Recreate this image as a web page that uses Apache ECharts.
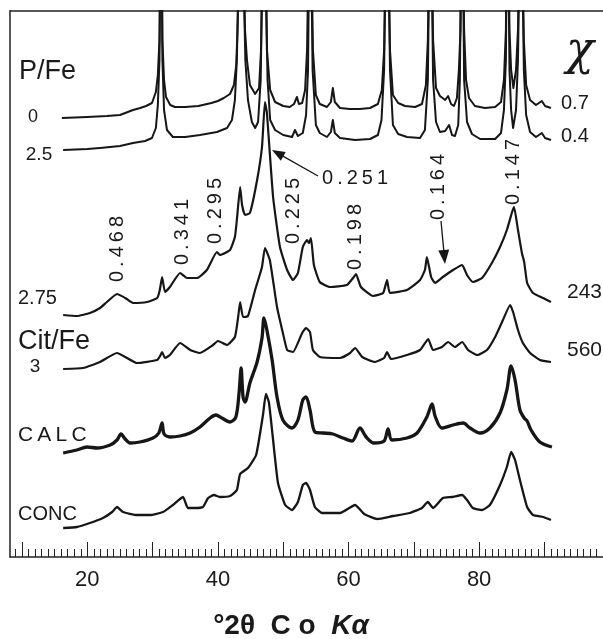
<!DOCTYPE html>
<html><head><meta charset="utf-8">
<script src="https://cdn.jsdelivr.net/npm/echarts@6/dist/echarts.min.js"></script>
<style>html,body{margin:0;padding:0;background:#fff}#c{width:603px;height:639px}</style>
</head><body><div id="c"></div>
<script>
// x: degrees 2θ as read on the drawn axis; y: stacked intensity (arbitrary units)
const pFe0 = [[16.1,439],[20.0,440],[23.0,441],[25.0,442],[27.0,447],[28.1,449],[29.0,451],[29.9,454],[30.5,465],[30.8,482],[31.05,517],[31.3,700],[31.5,517],[31.75,477],[32.05,460],[32.7,452],[33.4,450],[35.0,450],[37.0,451],[39.0,454],[40.0,456],[40.9,459],[41.85,463],[42.45,472],[42.8,492],[43.0,527],[43.55,700],[44.15,527],[44.45,497],[44.9,472],[45.7,463],[46.0,461],[46.3,469],[46.6,507],[47.05,700],[47.5,507],[48.0,467],[48.75,455],[50.0,451],[51.0,450],[51.65,453],[52.1,460],[52.4,453],[52.9,454],[53.35,467],[53.65,507],[54.1,700],[54.55,507],[55.0,462],[55.6,453],[56.7,450],[57.3,455],[57.6,469],[57.9,455],[58.7,449],[60.2,448],[61.75,448],[63.3,449],[64.5,453],[65.1,467],[65.45,507],[65.9,700],[66.35,507],[66.8,462],[67.6,454],[68.65,451],[70.2,450],[71.25,453],[71.85,472],[72.15,517],[72.55,700],[72.95,517],[73.4,469],[74.0,461],[74.8,457],[75.25,461],[75.7,453],[76.15,451],[76.6,459],[76.9,487],[77.15,527],[77.4,700],[77.7,527],[78.0,477],[78.45,459],[79.35,451],[80.9,449],[82.45,450],[83.35,455],[83.8,477],[84.1,527],[84.35,700],[84.65,527],[84.9,487],[85.25,469],[85.65,487],[85.95,527],[86.4,700],[86.85,517],[87.2,472],[87.8,457],[88.7,452],[89.6,456],[90.1,451],[91.0,449]];
const pFe25 = [[16.3,407],[20.0,408],[21.95,409],[25.0,411],[27.0,414],[28.85,416],[29.9,419],[30.5,429],[30.8,452],[31.05,497],[31.3,700],[31.5,497],[31.75,447],[32.2,427],[33.1,420],[35.0,420],[37.25,422],[39.85,425],[41.4,429],[42.15,437],[42.6,457],[42.9,497],[43.55,700],[44.2,497],[44.6,457],[45.2,435],[45.7,429],[46.15,435],[46.55,477],[47.05,700],[47.6,477],[48.0,437],[48.75,427],[50.0,422],[51.35,420],[51.8,427],[52.25,421],[53.0,424],[53.5,442],[53.8,487],[54.1,700],[54.5,487],[55.0,432],[55.6,424],[56.7,420],[57.3,425],[57.6,437],[57.9,424],[58.7,419],[61.0,417],[63.3,418],[64.5,422],[65.05,437],[65.45,487],[65.9,700],[66.35,487],[66.8,432],[67.6,423],[68.95,420],[70.95,419],[71.7,427],[72.15,477],[72.55,700],[72.95,477],[73.4,435],[74.0,425],[74.8,426],[75.4,432],[75.85,422],[76.3,421],[76.8,432],[77.05,477],[77.4,700],[77.7,477],[78.15,435],[78.9,423],[80.15,418],[82.45,418],[83.35,424],[83.8,447],[84.1,497],[84.35,700],[84.65,487],[84.9,447],[85.2,429],[85.65,447],[85.95,497],[86.4,700],[86.85,487],[87.2,442],[87.8,425],[88.7,420],[89.6,424],[90.1,419],[91.0,417]];
const pFe275 = [[16.3,242],[18.4,241],[20.4,244],[21.95,249],[23.0,255],[24.55,263],[25.8,259],[27.0,254],[29.15,255],[30.7,259],[31.1,267],[31.45,280],[31.9,265],[32.65,270],[34.2,284],[35.25,279],[36.8,279],[38.3,287],[39.85,305],[40.3,302],[41.85,307],[42.6,320],[42.9,337],[43.4,370],[43.7,352],[44.15,342],[44.9,344],[46.0,377],[46.75,410],[47.2,455],[47.5,444],[48.45,360],[49.5,310],[50.6,287],[51.5,277],[52.25,284],[53.0,310],[53.65,317],[53.95,314],[54.25,319],[54.7,292],[55.6,275],[57.15,270],[59.75,272],[60.7,279],[61.15,283],[61.9,270],[63.75,261],[65.3,264],[65.9,277],[66.35,264],[68.95,267],[70.95,277],[71.7,287],[72.0,300],[72.65,280],[73.25,274],[74.45,280],[76.0,287],[77.4,292],[78.15,282],[79.05,275],[80.45,279],[81.95,294],[83.2,310],[84.25,327],[85.05,345],[85.35,350],[85.95,327],[86.55,304],[86.9,295],[87.35,274],[88.25,264],[89.8,259],[91.0,255]];
const citFe3 = [[16.3,188],[19.35,189],[21.95,195],[24.55,204],[26.1,199],[27.6,194],[30.7,197],[31.15,201],[31.45,205],[31.9,199],[32.65,202],[34.2,214],[35.75,207],[37.25,204],[39.25,212],[40.0,216],[41.4,212],[42.6,220],[43.1,240],[43.4,255],[43.85,240],[44.6,241],[45.7,267],[46.75,290],[47.2,309],[47.95,297],[49.05,250],[49.95,224],[50.6,207],[51.5,205],[52.9,224],[53.5,229],[54.1,225],[54.55,207],[55.6,200],[58.7,199],[60.25,204],[61.0,209],[62.1,200],[64.05,195],[65.45,199],[65.9,205],[66.5,198],[68.95,202],[70.95,207],[72.2,218],[72.95,207],[74.3,210],[75.25,215],[76.3,210],[77.4,215],[78.3,207],[79.7,202],[81.2,207],[82.45,220],[83.65,237],[84.75,252],[85.2,245],[85.95,227],[86.7,214],[87.8,204],[89.3,197],[91.0,195]];
const calc = [[16.3,104],[18.4,107],[19.95,110],[21.5,109],[23.5,112],[24.55,117],[25.15,123],[25.8,118],[26.55,114],[28.05,115],[30.05,119],[30.95,124],[31.45,134],[31.75,123],[32.65,120],[34.2,121],[35.75,124],[37.25,130],[38.8,139],[39.7,142],[40.6,139],[41.85,135],[42.75,140],[43.25,165],[43.55,189],[43.85,160],[44.15,155],[44.9,174],[46.0,195],[46.75,219],[47.05,239],[47.5,227],[48.3,197],[49.05,160],[49.95,137],[51.35,129],[52.25,137],[53.0,157],[53.5,160],[54.1,147],[54.85,125],[56.1,124],[57.6,123],[59.15,119],[60.55,116],[61.75,129],[62.7,120],[63.9,114],[65.45,116],[66.05,128],[66.65,117],[68.95,119],[70.5,124],[72.0,140],[72.8,153],[73.25,141],[74.3,129],[76.0,132],[77.55,134],[78.6,129],[80.15,124],[81.65,129],[83.2,144],[84.25,167],[84.9,191],[85.5,177],[86.25,147],[86.9,139],[87.35,136],[87.95,127],[89.3,115],[91.15,110]];
const conc = [[16.3,29],[18.4,30],[20.4,34],[22.4,39],[23.8,45],[24.55,50],[25.45,45],[27.6,42],[29.6,42],[31.6,45],[33.1,52],[34.65,60],[35.4,49],[36.5,49],[37.7,50],[38.5,59],[39.4,62],[40.3,60],[41.85,61],[42.9,67],[43.4,83],[44.6,89],[45.85,102],[46.9,142],[47.35,163],[47.8,155],[48.45,117],[49.2,74],[50.3,52],[51.35,47],[52.25,55],[53.0,72],[53.5,74],[54.1,67],[54.85,50],[55.95,44],[58.7,44],[61.0,52],[62.4,43],[64.4,38],[66.8,41],[69.4,44],[71.25,49],[72.15,55],[72.95,49],[74.45,59],[75.85,60],[77.4,62],[78.15,57],[79.05,49],[80.45,47],[81.65,52],[83.2,72],[84.25,90],[84.9,105],[85.5,97],[86.25,77],[87.35,50],[88.25,42],[89.8,40],[91.0,37]];

const xLabelValues = [20, 40, 60, 80];
const xMajorTicks = [10, 20, 30, 40, 50, 60, 70, 80, 90];
const xMinorTicks = [];
for (let v = 9; v <= 98; v++) if (v % 10 !== 0) xMinorTicks.push(v);
const dLabels = ['0.468', '0.341', '0.295', '0.225', '0.198', '0.164', '0.147'];

const X_MIN = 8.16, X_MAX = 98.97;
const INK = '#161616';
const F = '"Liberation Sans", Arial, sans-serif';
const sp = s => s.split('').join('\u2009');

function T(text, x, y, size, o) {
  o = o || {};
  return {type: 'text', x: x, y: y, rotation: o.rot || 0, z: 100,
    style: {text: text, x: 0, y: 0,
      font: (o.italic ? 'italic ' : '') + (o.bold ? 'bold ' : '') + size + 'px ' + (o.family || F),
      fill: '#1a1a1a', align: o.align || 'left', verticalAlign: 'middle'}};
}
function arrow(x1, y1, x2, y2, len, hw) {
  const dx = x2 - x1, dy = y2 - y1, L = Math.hypot(dx, dy);
  const ux = dx / L, uy = dy / L;
  const bx = x2 - ux * len, by = y2 - uy * len;
  const px = -uy * hw, py = ux * hw;
  return [
    {type: 'line', z: 100, shape: {x1: x1, y1: y1, x2: bx + ux * 2, y2: by + uy * 2}, style: {stroke: INK, lineWidth: 1.3}},
    {type: 'polygon', z: 100, shape: {points: [[x2, y2], [bx + px, by + py], [bx - px, by - py]]}, style: {fill: INK}}
  ];
}

const dPos = [[117, 249], [182, 232], [215, 211], [293, 211], [355, 237], [438, 187], [513, 172]];
const graphics = [
  T('P/Fe', 19, 72, 27),
  T('0', 33, 117, 18, {align: 'center'}),
  T('2.5', 39, 155, 19, {align: 'center'}),
  T('χ', 580, 52, 46, {align: 'center', italic: true, family: '"DejaVu Serif", "Liberation Serif", serif'}),
  T('0.7', 561, 103, 20),
  T('0.4', 561, 136, 20),
  T(sp('0.251'), 322, 178, 20),
  T('2.75', 18, 298, 20),
  T('Cit/Fe', 18, 342, 27),
  T('3', 35, 367, 19, {align: 'center'}),
  T('243', 567, 292, 21),
  T('560', 567, 350, 21),
  T(sp('CALC'), 18, 435, 21),
  T('CONC', 18, 514, 20),
  {type: 'text', x: 291, y: 626, z: 100, style: {
    text: '{a|°2θ  C o  }{b|Kα}', align: 'center', verticalAlign: 'middle',
    rich: {a: {fontSize: 28, fontWeight: 'bold', fontFamily: F, fill: '#1a1a1a'},
           b: {fontSize: 28, fontWeight: 'bold', fontStyle: 'italic', fontFamily: F, fill: '#1a1a1a'}}}}
];
dLabels.forEach((t, i) => graphics.push(T(sp(t), dPos[i][0], dPos[i][1], 20, {align: 'center', rot: Math.PI / 2})));
graphics.push(...arrow(318, 176, 272, 150, 13, 5));
graphics.push(...arrow(441, 221, 445, 264, 14, 5.5));

const mkLine = (data, w, smooth) => ({type: 'line', data: data, showSymbol: false, smooth: smooth || false,
  lineStyle: {width: w, color: INK, join: 'round'}, clip: true, silent: true});

const chart = echarts.init(document.getElementById('c'), null, {renderer: 'canvas'});
chart.setOption({
  animation: false,
  backgroundColor: '#fff',
  grid: {left: 10, right: 0, top: 11, bottom: 82},
  xAxis: [
    {type: 'value', min: X_MIN, max: X_MAX, position: 'bottom',
      axisLine: {show: true, onZero: false, lineStyle: {color: '#222', width: 1.5}},
      axisTick: {show: true, inside: true, length: 15, customValues: xMajorTicks, lineStyle: {color: '#222', width: 1}},
      axisLabel: {show: true, customValues: xLabelValues, fontSize: 22, color: '#1a1a1a', fontFamily: F, margin: 12},
      splitLine: {show: false}},
    {type: 'value', min: X_MIN, max: X_MAX, position: 'bottom',
      axisLine: {show: false},
      axisTick: {show: true, inside: true, length: 8, customValues: xMinorTicks, lineStyle: {color: '#222', width: 1}},
      axisLabel: {show: false}, splitLine: {show: false}},
    {type: 'value', min: X_MIN, max: X_MAX, position: 'top',
      axisLine: {show: true, onZero: false, lineStyle: {color: '#222', width: 1.5}},
      axisTick: {show: false}, axisLabel: {show: false}, splitLine: {show: false}}
  ],
  yAxis: {type: 'value', min: 0, max: 546,
    axisLine: {show: true, onZero: false, lineStyle: {color: '#222', width: 1.5}},
    axisTick: {show: false}, axisLabel: {show: false}, splitLine: {show: false}},
  series: [
    mkLine(pFe0, 2.0), mkLine(pFe25, 2.0), mkLine(pFe275, 2.2, 0.15),
    mkLine(citFe3, 2.2, 0.15), mkLine(calc, 3.3, 0.3), mkLine(conc, 2.3, 0.15)
  ],
  graphic: graphics
});
</script></body></html>
